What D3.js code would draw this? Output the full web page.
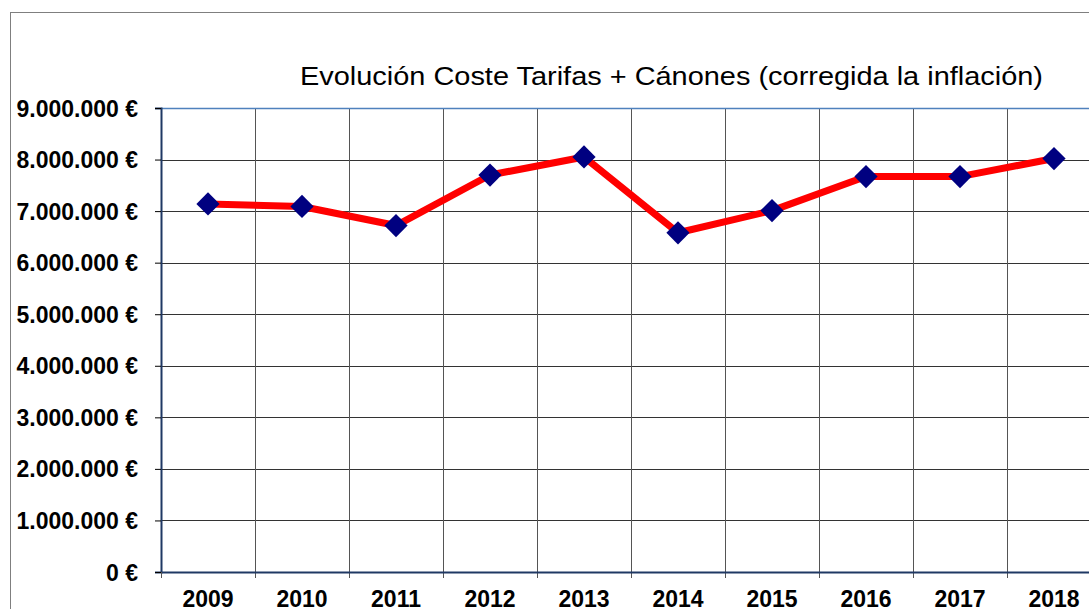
<!DOCTYPE html>
<html><head><meta charset="utf-8">
<script src="https://cdn.jsdelivr.net/npm/d3@7"></script>
<style>body{margin:0;background:#fff}svg{display:block}</style>
</head><body>
<svg id="c" width="1089" height="609"></svg>
<script>
const years = ["2009","2010","2011","2012","2013","2014","2015","2016","2017","2018"];
const values = [7140000,7090000,6720000,7700000,8050000,6580000,7010000,7670000,7670000,8020000];
const yTicks = [0,1000000,2000000,3000000,4000000,5000000,6000000,7000000,8000000,9000000];
const title = "Evolución Coste Tarifas + Cánones (corregida la inflación)";

const svg = d3.select("#c");
const L = 161, T = 108, B = 572, band = 94;
const x = d3.scaleBand().domain(years).range([L, L + band*years.length]);
const y = d3.scaleLinear().domain([0, 9000000]).range([B, T]);
const fmt = v => d3.format(",")(v).replace(/,/g, ".") + " €";
const FF = "Liberation Sans, Arial, sans-serif";

// outer border
svg.append("rect").attr("x",10.5).attr("y",12.5).attr("width",1200).attr("height",700)
  .attr("fill","none").attr("stroke","#7f7f7f").attr("stroke-width",1);

// title
svg.append("text").attr("x",300).attr("y",85)
  .attr("font-family",FF).attr("font-size",25)
  .attr("textLength",743).attr("lengthAdjust","spacingAndGlyphs")
  .attr("fill","#000").text(title);

// horizontal grid
svg.append("g").selectAll("line").data(yTicks.filter(d=>d>0 && d<9000000)).join("line")
  .attr("x1",L).attr("x2",1200).attr("y1",d=>Math.round(y(d))+0.5).attr("y2",d=>Math.round(y(d))+0.5)
  .attr("stroke","#333").attr("stroke-width",1);
// vertical grid
svg.append("g").selectAll("line").data(years.slice(1).concat(["end"])).join("line")
  .attr("x1",(d,i)=>L+band*(i+1)+0.5).attr("x2",(d,i)=>L+band*(i+1)+0.5)
  .attr("y1",T).attr("y2",B+6).attr("stroke","#555").attr("stroke-width",1);

// top border
svg.append("line").attr("x1",L).attr("x2",1200).attr("y1",T+0.5).attr("y2",T+0.5)
  .attr("stroke","#4f81bd").attr("stroke-width",1.5);

// y axis
const yAxis = d3.axisLeft(y).tickValues(yTicks).tickFormat(fmt).tickSize(6).tickPadding(17);
const gy = svg.append("g").attr("transform",`translate(${L},0)`).call(yAxis);
gy.select(".domain").attr("stroke","#1f3864").attr("stroke-width",2);
gy.selectAll(".tick line").attr("stroke","#000");
gy.selectAll("text").attr("font-family",FF)
  .attr("font-size",23).attr("font-weight","bold").attr("fill","#000").attr("dy","0.35em");

// x axis
const xAxis = d3.axisBottom(x).tickSize(0).tickPadding(0);
const gx = svg.append("g").attr("transform",`translate(0,${B})`).call(xAxis);
gx.select(".domain").attr("stroke","#1f3864").attr("stroke-width",2);
gx.selectAll("text").attr("font-family",FF).attr("y",35).attr("dy",null)
  .attr("font-size",23).attr("font-weight","bold").attr("fill","#000");
svg.append("line").attr("x1",L+0.5).attr("x2",L+0.5).attr("y1",B).attr("y2",B+6).attr("stroke","#555");

// line
const cx = d => x(d) + x.bandwidth()/2;
svg.append("path").datum(years.map((d,i)=>[cx(d), y(values[i])]))
  .attr("d", d3.line()).attr("fill","none").attr("stroke","#ff0000").attr("stroke-width",7)
  .attr("stroke-linejoin","round");

// markers
svg.append("g").selectAll("path").data(years).join("path")
  .attr("d", d3.symbol().type(d3.symbolSquare).size(270))
  .attr("transform",(d,i)=>`translate(${cx(d)},${y(values[i])}) rotate(45)`)
  .attr("fill","#000080");
</script>
</body></html>
